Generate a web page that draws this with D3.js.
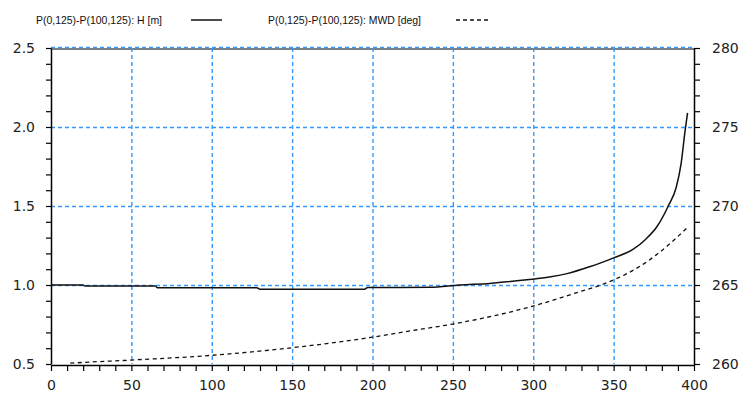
<!DOCTYPE html>
<html>
<head>
<meta charset="utf-8">
<script src="https://cdn.jsdelivr.net/npm/d3@7"></script>
<style>
  body { margin: 0; background: #fff; }
  svg { display: block; }
</style>
</head>
<body>
<svg id="chart" width="743" height="395"></svg>
<script>
// ---- data ----
const legendLabels = ["P(0,125)-P(100,125): H [m]", "P(0,125)-P(100,125): MWD [deg]"];
const hX = [0, 20, 21, 65, 66, 128, 130, 195, 197, 236, 254, 273, 296, 310, 321, 335, 342, 350, 362, 370, 377, 384, 389, 392, 394.5, 396];
const hY = [1.0, 1.0, 0.993, 0.993, 0.983, 0.983, 0.973, 0.973, 0.984, 0.985, 1.0, 1.01, 1.033, 1.05, 1.072, 1.115, 1.14, 1.172, 1.225, 1.29, 1.37, 1.5, 1.62, 1.77, 1.98, 2.09];
const mX = [12, 20, 50, 100, 150, 200, 225, 250, 300, 325, 350, 365, 379, 395.5];
const mY = [260.05, 260.1, 260.25, 260.55, 261.03, 261.7, 262.12, 262.53, 263.67, 264.45, 265.32, 266.1, 267.1, 268.6];
const xTicks = d3.range(0, 401, 10);
const xLabels = [0, 50, 100, 150, 200, 250, 300, 350, 400];
const yLeftTicks = d3.range(5, 26, 1).map(d => d / 10);
const yLeftLabels = [0.5, 1.0, 1.5, 2.0, 2.5];
const yRightTicks = d3.range(260, 281, 1);
const yRightLabels = [260, 265, 270, 275, 280];
const xGrid = [50, 100, 150, 200, 250, 300, 350];
const yGrid = [1.0, 1.5, 2.0, 2.5];

// ---- layout ----
const L = 51, R = 694, T = 48, B = 364;
const svg = d3.select("#chart");
const x = d3.scaleLinear().domain([0, 400]).range([L, R]);
const yL = d3.scaleLinear().domain([0.5, 2.5]).range([B, T]);
const yR = d3.scaleLinear().domain([260, 280]).range([B, T]);

const gridColor = "#3399ff";
const tickFont = "DejaVu Sans, sans-serif";

// grid
const grid = svg.append("g");
grid.selectAll("line.v").data(xGrid).join("line")
  .attr("x1", d => x(d) + 0.5).attr("x2", d => x(d) + 0.5)
  .attr("y1", T).attr("y2", B)
  .attr("stroke", gridColor).attr("stroke-width", 1.4).attr("stroke-dasharray", "4,3");
// top black border
svg.append("line").attr("x1", L).attr("x2", R).attr("y1", T + 1).attr("y2", T + 1)
  .attr("stroke", "#000").attr("stroke-width", 1.2);
grid.raise();
grid.selectAll("line.h").data(yGrid).join("line")
  .attr("x1", L).attr("x2", R)
  .attr("y1", d => yL(d) + (d === 2.5 ? -0.5 : 0.5)).attr("y2", d => yL(d) + (d === 2.5 ? -0.5 : 0.5))
  .attr("stroke", gridColor).attr("stroke-width", 1.4).attr("stroke-dasharray", "4,3");

// axes
function styleAxis(g) {
  g.select(".domain").attr("stroke", "#000").attr("stroke-width", 1.5);
  g.selectAll(".tick line").attr("stroke", "#000").attr("stroke-width", 1.2);
  g.selectAll(".tick text").attr("font-family", tickFont).attr("font-size", 14).attr("fill", "#222");
}
const ax = svg.append("g").attr("transform", `translate(0,${B + 1})`)
  .call(d3.axisBottom(x).tickValues(xTicks).tickSize(6).tickSizeOuter(0).tickPadding(9)
    .tickFormat(d => xLabels.includes(d) ? d : ""));
styleAxis(ax);
const al = svg.append("g").attr("transform", `translate(${L},0)`)
  .call(d3.axisLeft(yL).tickValues(yLeftTicks).tickSize(5).tickSizeOuter(0).tickPadding(11)
    .tickFormat(d => yLeftLabels.some(v => Math.abs(v - d) < 1e-9) ? d3.format(".1f")(d) : ""));
styleAxis(al);
const ar = svg.append("g").attr("transform", `translate(${R},0)`)
  .call(d3.axisRight(yR).tickValues(yRightTicks).tickSize(6).tickSizeOuter(0).tickPadding(12)
    .tickFormat(d => yRightLabels.includes(d) ? d : ""));
styleAxis(ar);

// series
const hData = hX.map((v, i) => [v, hY[i]]);
const mData = mX.map((v, i) => [v, mY[i]]);
svg.append("path").datum(hData)
  .attr("fill", "none").attr("stroke", "#111").attr("stroke-width", 1.5)
  .attr("d", d3.line().x(d => x(d[0])).y(d => yL(d[1])).curve(d3.curveMonotoneX));
svg.append("path").datum(mData)
  .attr("fill", "none").attr("stroke", "#111").attr("stroke-width", 1.3).attr("stroke-dasharray", "4,3.5")
  .attr("d", d3.line().x(d => x(d[0])).y(d => yR(d[1])).curve(d3.curveMonotoneX));

// legend
const leg = svg.append("g").attr("font-family", "Liberation Sans, Arial, sans-serif").attr("font-size", 11.5).attr("fill", "#111");
leg.append("text").attr("x", 36).attr("y", 24).attr("textLength", 126).attr("lengthAdjust", "spacingAndGlyphs").text(legendLabels[0]);
leg.append("line").attr("x1", 191).attr("x2", 222).attr("y1", 20).attr("y2", 20)
  .attr("stroke", "#111").attr("stroke-width", 1.5);
leg.append("text").attr("x", 268).attr("y", 24).attr("textLength", 153).attr("lengthAdjust", "spacingAndGlyphs").text(legendLabels[1]);
leg.append("line").attr("x1", 456).attr("x2", 488).attr("y1", 20).attr("y2", 20)
  .attr("stroke", "#111").attr("stroke-width", 1.3).attr("stroke-dasharray", "4,3");
</script>
</body>
</html>
